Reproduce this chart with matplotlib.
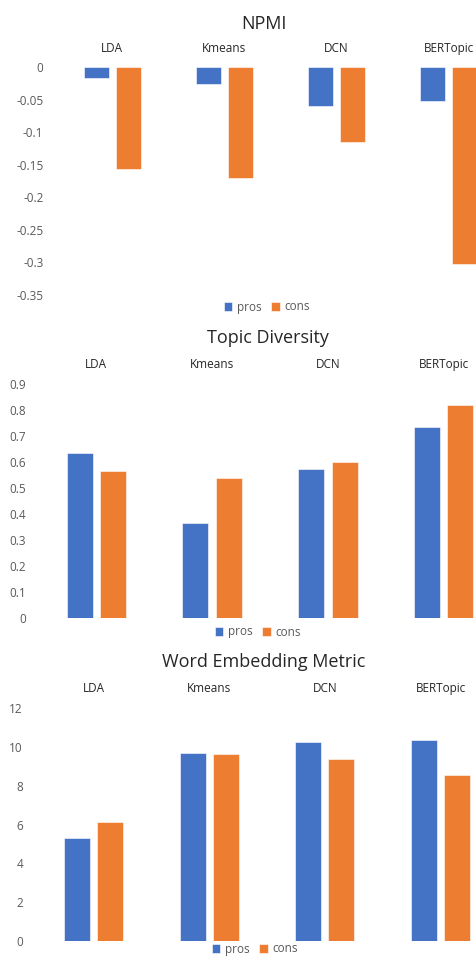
import numpy as np
import matplotlib.pyplot as plt

plt.rcParams['font.family'] = ['Open Sans', 'DejaVu Sans']

# Data
models = ['LDA', 'Kmeans', 'DCN', 'BERTopic']
npmi_pros = [-0.017, -0.026, -0.060, -0.052]
npmi_cons = [-0.157, -0.171, -0.115, -0.302]
td_pros = [0.633, 0.364, 0.574, 0.733]
td_cons = [0.565, 0.539, 0.600, 0.818]
wem_pros = [5.32, 9.67, 10.22, 10.32]
wem_cons = [6.14, 9.64, 9.36, 8.54]

npmi_ticks = [0, -0.05, -0.1, -0.15, -0.2, -0.25, -0.3, -0.35]
npmi_ticklabels = ['0', '-0.05', '-0.1', '-0.15', '-0.2', '-0.25', '-0.3', '-0.35']
td_ticks = [0, 0.1, 0.2, 0.3, 0.4, 0.5, 0.6, 0.7, 0.8, 0.9]
td_ticklabels = ['0', '0.1', '0.2', '0.3', '0.4', '0.5', '0.6', '0.7', '0.8', '0.9']
wem_ticks = [0, 2, 4, 6, 8, 10, 12]
wem_ticklabels = ['0', '2', '4', '6', '8', '10', '12']

BLUE = '#4472C4'
ORANGE = '#ED7D31'
GRAY = '#595959'

W, H = 477, 956
fig = plt.figure(figsize=(W / 100, H / 100), dpi=100)
fig.patch.set_facecolor('white')


def px_axes(left, top, right, bottom):
    # pixel box -> figure fraction
    return fig.add_axes([left / W, 1 - bottom / H, (right - left) / W, (bottom - top) / H])


def panel(box, pros, cons, ylim, ticks, ticklabels, title, title_xy, legend_xy):
    ax = px_axes(*box)
    x = np.arange(len(models))
    off, width = 0.143, 0.224
    bp = ax.bar(x - off, pros, width, color=BLUE, edgecolor='white', linewidth=0.4, label='pros')
    bc = ax.bar(x + off, cons, width, color=ORANGE, edgecolor='white', linewidth=0.4, label='cons')
    ax.set_xlim(-0.5, len(models) - 0.5)
    ax.set_ylim(*ylim)
    ax.set_yticks(ticks)
    ax.set_yticklabels(ticklabels)
    ax.xaxis.tick_top()
    ax.set_xticks(x)
    ax.set_xticklabels(models)
    ax.tick_params(axis='x', length=0, pad=9, labelsize=8.5, labelcolor='#262626')
    ax.tick_params(axis='y', length=0, pad=9, labelsize=8.5, labelcolor=GRAY)
    for s in ax.spines.values():
        s.set_visible(False)
    fig.text(title_xy[0] / W, 1 - title_xy[1] / H, title, ha='center', va='center',
             fontsize=13, color='#262626')
    fig.legend(handles=[bp, bc], loc='center', bbox_to_anchor=(legend_xy[0] / W, 1 - legend_xy[1] / H),
               ncol=2, frameon=False, fontsize=8.5, labelcolor=GRAY, handlelength=0.7,
               handleheight=0.7, handletextpad=0.4, columnspacing=0.8)
    return ax


panel((56, 67.3, 505, 294.7), npmi_pros, npmi_cons, (-0.35, 0), npmi_ticks, npmi_ticklabels,
      'NPMI', (264, 24), (267, 307))
panel((38.2, 383.7, 501.8, 618.3), td_pros, td_cons, (0, 0.9), td_ticks, td_ticklabels,
      'Topic Diversity', (268, 338), (258, 632))
panel((35.5, 707.7, 498.5, 941.3), wem_pros, wem_cons, (0, 12), wem_ticks, wem_ticklabels,
      'Word Embedding Metric', (264, 662), (255, 949))

fig.savefig('out.png', dpi=100)
